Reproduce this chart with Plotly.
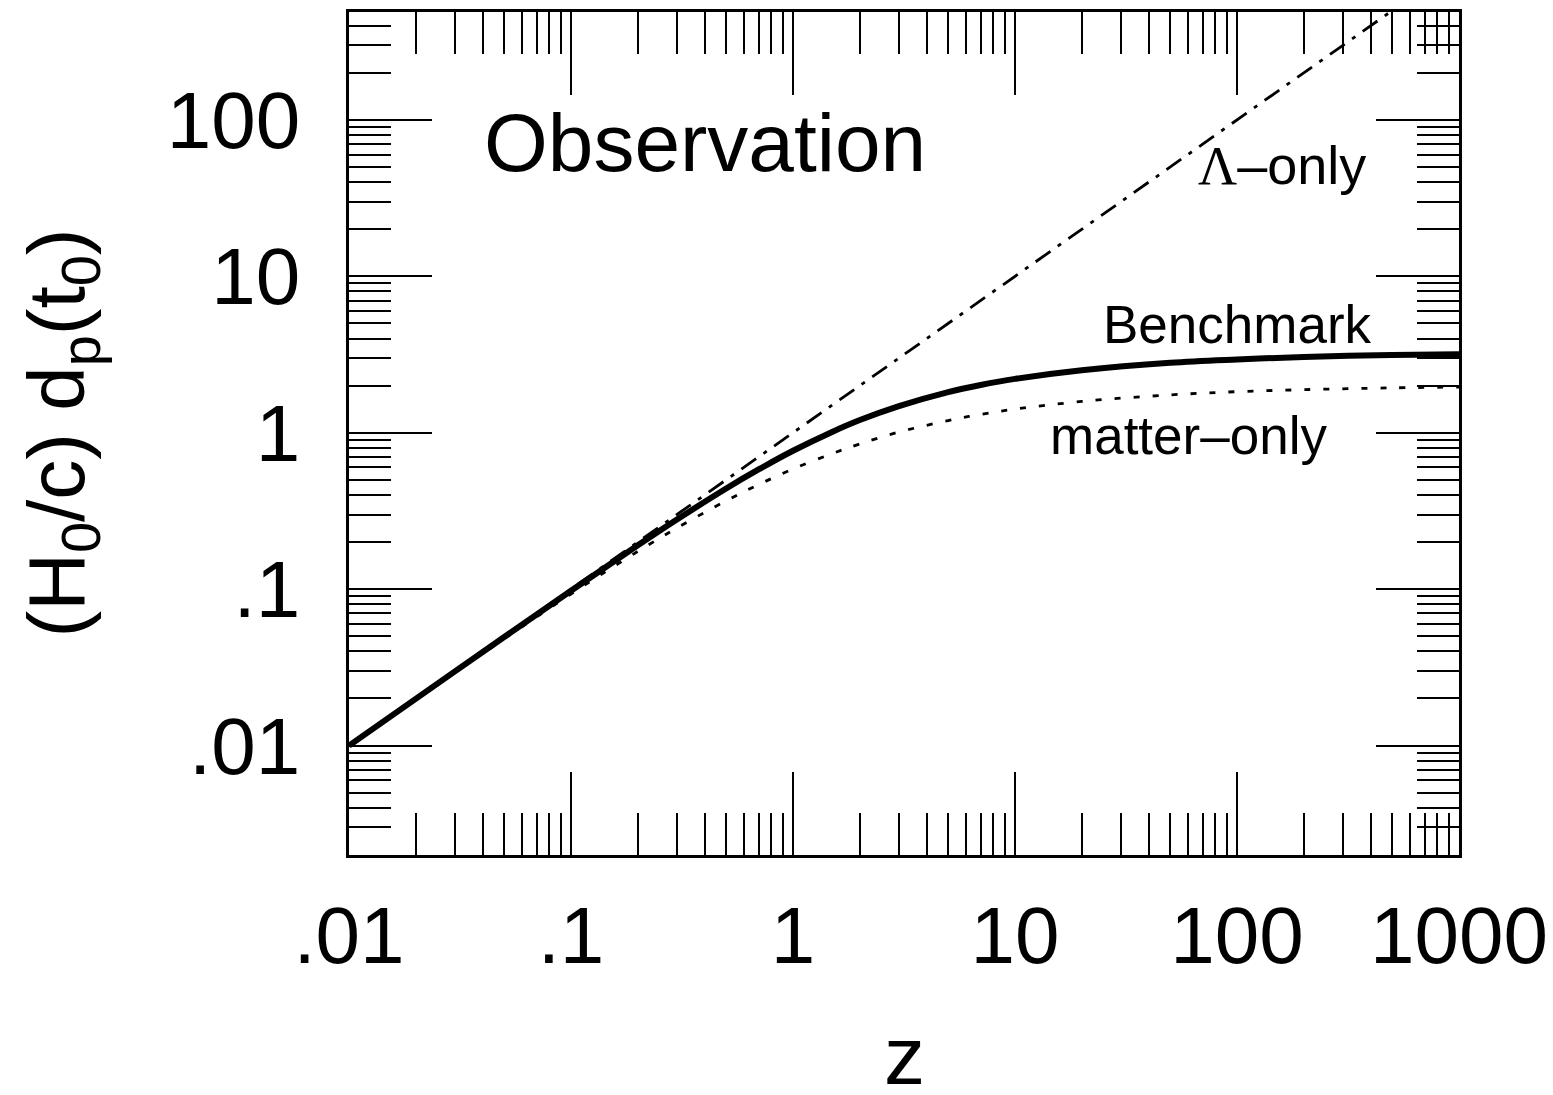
import plotly.graph_objects as go

# ---- data ----
z_bench = [0.01, 0.03, 0.1, 0.2, 0.3, 0.5, 0.7, 1, 1.5, 2, 3, 5, 7, 10, 20, 50, 100, 200, 500, 1000]
d_bench = [0.00998, 0.0298, 0.0977, 0.1906, 0.2786, 0.440, 0.582, 0.767, 1.012, 1.205, 1.48, 1.82,
           2.02, 2.21, 2.51, 2.80, 2.94, 3.05, 3.14, 3.18]

z_matter = [0.01, 0.03, 0.1, 0.2, 0.3, 0.5, 0.7, 1, 1.5, 2, 3, 5, 7, 10, 20, 50, 100, 200, 500, 1000]
d_matter = [0.00993, 0.0293, 0.0931, 0.1743, 0.2459, 0.367, 0.466, 0.586, 0.735, 0.848, 1.01, 1.195,
            1.31, 1.415, 1.585, 1.745, 1.83, 1.885, 1.935, 1.96]

z_lambda = [0.01, 0.1, 1, 10, 100, 1000]
d_lambda = [0.01, 0.1, 1, 10, 100, 1000]

x_tickvals = [0.01, 0.1, 1, 10, 100, 1000]
x_ticktext = [".01", ".1", "1", "10", "100", "1000"]
y_tickvals = [0.01, 0.1, 1, 10, 100]
y_ticktext = [".01", ".1", "1", "10", "100"]

# ---- layout geometry (pixels, as seen in the target image) ----
W, H = 1553, 1095
OX, OY = 6, 9          # page offset observed in rendering
L, R, T, B = 347, 1457, 10, 856

def px(x):
    return (x - L) / (R - L)

def py(y):
    return (B - y) / (B - T)

x_minor = [k * 10 ** n for n in range(-2, 3) for k in range(2, 10)]
y_minor = [k * 10 ** n for n in range(-3, 3) for k in range(2, 10)]
y_minor = [v for v in y_minor if 0.00199 <= v <= 505]

FONT = "Liberation Sans, Arial, Helvetica, sans-serif"

fig = go.Figure()
fig.add_trace(go.Scatter(x=z_lambda, y=d_lambda, mode="lines",
                         line=dict(color="black", width=2.8, dash="18px,9px,4px,9px"),
                         showlegend=False))
fig.add_trace(go.Scatter(x=z_matter, y=d_matter, mode="lines", line_shape="spline",
                         line=dict(color="black", width=2.8, dash="6px,13px"),
                         showlegend=False))
fig.add_trace(go.Scatter(x=z_bench, y=d_bench, mode="lines", line_shape="spline",
                         line=dict(color="black", width=6),
                         showlegend=False))

axis_common = dict(
    showgrid=False, zeroline=False,
    showline=True, linecolor="black", linewidth=2.5, mirror="ticks",
    ticks="inside", ticklen=83, tickwidth=2, tickcolor="black",
    tickfont=dict(family=FONT, size=80, color="black"),
)

fig.update_xaxes(type="log", range=[-2, 3], tickmode="array",
                 tickvals=x_tickvals, ticktext=x_ticktext,
                 ticklabelstandoff=9,
                 minor=dict(tickmode="array", tickvals=x_minor, ticks="inside",
                            ticklen=42, tickwidth=2, tickcolor="black", showgrid=False),
                 **axis_common)
fig.update_yaxes(type="log", range=[-2.70, 2.69], tickmode="array",
                 tickvals=y_tickvals, ticktext=y_ticktext,
                 ticklabelstandoff=30,
                 minor=dict(tickmode="array", tickvals=y_minor, ticks="inside",
                            ticklen=42, tickwidth=2, tickcolor="black", showgrid=False),
                 **axis_common)

annotations = [
    dict(text="Observation", x=px(480), y=py(141), xanchor="left", yanchor="middle",
         font=dict(family=FONT, size=82, color="black")),
    dict(text="<span style=\"font-family:'Liberation Serif', 'Times New Roman', serif\">Λ</span>–only",
         x=px(1366), y=py(164), xanchor="right", yanchor="middle",
         font=dict(family=FONT, size=54, color="black")),
    dict(text="Benchmark", x=px(1372), y=py(324), xanchor="right", yanchor="middle",
         font=dict(family=FONT, size=53, color="black")),
    dict(text="matter–only", x=px(1327), y=py(435), xanchor="right", yanchor="middle",
         font=dict(family=FONT, size=53, color="black")),
    dict(text="(H<sub>0</sub>/c) d<sub>p</sub>(t<sub>0</sub>)", x=px(60), y=py(433),
         xanchor="center", yanchor="middle", textangle=-90,
         font=dict(family=FONT, size=80, color="black")),
    dict(text="z", x=px(902), y=py(1057), xanchor="center", yanchor="middle",
         font=dict(family=FONT, size=82, color="black")),
]
for a in annotations:
    a.update(xref="paper", yref="paper", showarrow=False)

fig.update_layout(
    width=W, height=H,
    margin=dict(l=L - OX, r=W - R + OX, t=T - OY, b=H - B + OY, pad=0),
    paper_bgcolor="white", plot_bgcolor="white",
    annotations=annotations,
    showlegend=False,
)

fig.write_html("out.html")
